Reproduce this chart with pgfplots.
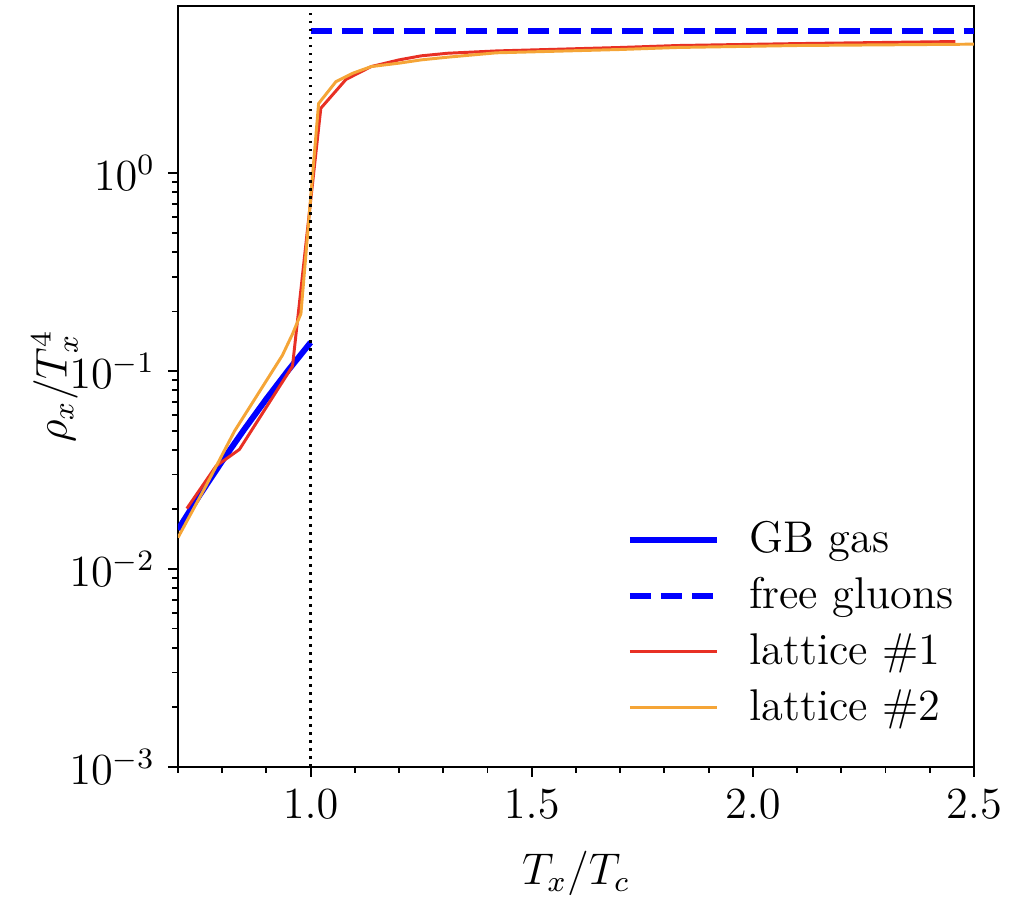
\documentclass[border=0pt]{standalone}
\usepackage{pgfplots}
\pgfplotsset{compat=1.18}
\definecolor{latred}{RGB}{232,48,36}
\definecolor{latorange}{RGB}{245,165,55}
\begin{document}
\begin{tikzpicture}
\begin{axis}[
  scale only axis,
  width=215pt, height=205.5pt,
  xmin=0.7, xmax=2.5,
  ymode=log, ymin=1e-3, ymax=7.0,
  xtick={1.0,1.5,2.0,2.5},
  minor xtick={0.7,0.8,0.9,1.1,1.2,1.3,1.4,1.6,1.7,1.8,1.9,2.1,2.2,2.3,2.4},
  xticklabel style={/pgf/number format/.cd, fixed, fixed zerofill, precision=1},
  ytick={1e-3,1e-2,1e-1,1},
  tick label style={font=\large},
  label style={font=\large},
  xlabel style={at={(axis description cs:0.5,-0.14)}, anchor=center},
  ylabel style={at={(axis description cs:-0.155,0.5)}, anchor=center},
  tick align=outside,
  tick pos=left,
  major tick length=2.7pt,
  minor tick length=1.6pt,
  axis line style={line width=0.6pt},
  every tick/.style={black, line width=0.5pt},
  xlabel={$T_x/T_c$},
  ylabel={$\rho_x/T_x^4$},
  legend cell align=left,
  legend style={at={(rel axis cs:0.549,0.343)}, anchor=north west, draw=none, fill=none,
    row sep=1.2pt, font=\large, /tikz/every odd column/.append style={column sep=6pt}},
  legend image code/.code={\draw[#1] (0pt,0pt) -- (23.5pt,0pt);},
]
\addplot[blue, line width=1.6pt] coordinates {
(0.70,0.0158) (0.75,0.0238) (0.80,0.0351) (0.85,0.0508) (0.90,0.0724) (0.95,0.1014) (1.00,0.1396)
};
\addlegendentry{GB gas}
\addplot[blue, line width=1.6pt, dash pattern=on 5.7pt off 2.7pt] coordinates {
(1.0,5.26) (2.5,5.26)
};
\addlegendentry{free gluons}
\addplot[latred, line width=0.8pt] coordinates {
(0.72,0.0202) (0.786,0.0331) (0.839,0.0402) (0.959,0.106) (1.023,2.13) (1.08,2.98) (1.137,3.46)
(1.20,3.74) (1.25,3.92) (1.31,4.04) (1.42,4.15) (1.70,4.32) (1.83,4.42) (2.10,4.52) (2.458,4.63)
};
\addlegendentry{lattice \#1}
\addplot[latorange, line width=0.8pt] coordinates {
(0.70,0.0144) (0.764,0.0265) (0.828,0.0498) (0.936,0.120) (0.959,0.154) (0.978,0.195) (1.018,2.25)
(1.057,2.90) (1.095,3.20) (1.137,3.46) (1.20,3.60) (1.25,3.74) (1.31,3.86) (1.42,4.06) (1.70,4.22)
(1.83,4.32) (2.10,4.42) (2.50,4.49)
};
\addlegendentry{lattice \#2}
\addplot[black, line width=0.7pt, dash pattern=on 0.7pt off 1.46pt, forget plot] coordinates {(1,1e-3) (1,7.0)};
\coordinate (bl) at (rel axis cs:-0.2236,-0.1472);
\coordinate (tr) at (rel axis cs:1.0616,1.0079);
\end{axis}
\path (bl) rectangle (tr);
\end{tikzpicture}
\end{document}
